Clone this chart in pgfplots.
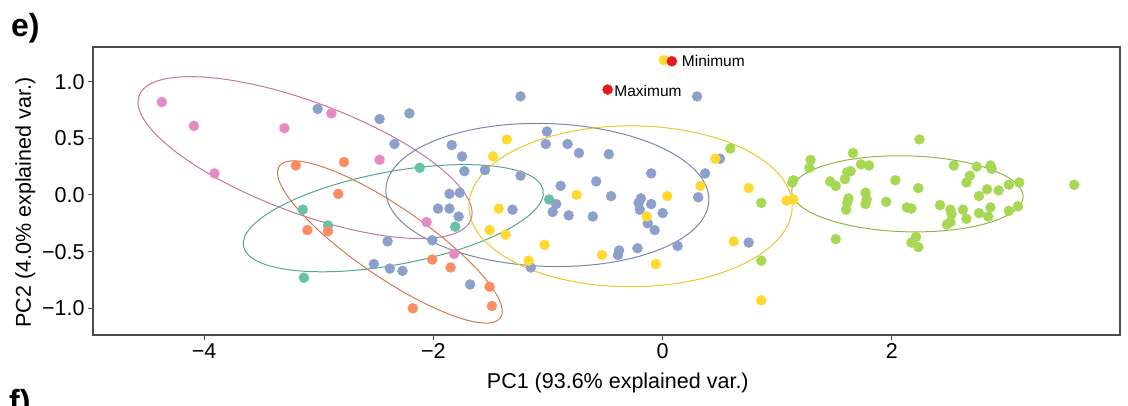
\documentclass[border=0pt]{standalone}
\usepackage{fontspec}
\setmainfont{Liberation Sans}
\usepackage{pgfplots}
\pgfplotsset{compat=1.18}
\definecolor{cteal}{HTML}{66C2A5}
\definecolor{corange}{HTML}{FC8D62}
\definecolor{cblue}{HTML}{8DA0CB}
\definecolor{cpink}{HTML}{E78AC3}
\definecolor{clime}{HTML}{A6D854}
\definecolor{cyellow}{HTML}{FFD92F}
\definecolor{cred}{HTML}{E31A1C}
\begin{document}
\begin{tikzpicture}[x=1pt,y=1pt]
\begin{axis}[
  at={(93pt,70pt)}, anchor=south west,
  scale only axis, width=1027pt, height=288pt,
  xmin=-4.97, xmax=3.99, ymin=-1.236, ymax=1.306,
  xtick={-4,-2,0,2}, xticklabels={−4,−2,0,2},
  ytick={-1,-0.5,0,0.5,1}, yticklabels={−1.0,−0.5,0.0,0.5,1.0},
  tick align=outside, major tick length=5pt,
  xtick pos=bottom, ytick pos=left,
  axis line style={line width=1.5pt, draw=black!70},
  tick style={line width=1pt, black!70},
  ticklabel style={font=\fontsize{21.5}{24}\selectfont},
  xlabel={PC1 (93.6\% explained var.)},
  ylabel={PC2 (4.0\% explained var.)},
  label style={font=\fontsize{21.5}{24}\selectfont},
  xlabel style={at={(axis description cs:0.511,-0.1667)}, anchor=center},
  ylabel style={at={(axis description cs:-0.066,0.46)}, anchor=center},
  clip=false,
]
% teal
\addplot[only marks, mark=*, mark size=5, color=cteal] coordinates {
(-2.12,0.24) (-3.14,-0.13) (-2.92,-0.27) (-3.13,-0.73) (-1.81,-0.28) (-0.99,-0.04)};
% orange
\addplot[only marks, mark=*, mark size=5, color=corange] coordinates {
(-3.20,0.26) (-2.78,0.29) (-2.83,0.01) (-3.10,-0.31) (-2.92,-0.32) (-2.01,-0.57)
(-1.85,-0.64) (-2.18,-1.00) (-1.51,-0.81) (-1.49,-0.98)};
% blue
\addplot[only marks, mark=*, mark size=5, color=cblue] coordinates {
(-3.01,0.76) (-2.47,0.67) (-2.21,0.72) (-2.34,0.45)
(-2.40,-0.41) (-2.01,-0.40) (-1.96,-0.12) (-2.52,-0.61) (-2.38,-0.65) (-2.27,-0.67)
(-1.86,0.01) (-1.77,0.02) (-1.86,-0.12) (-1.78,-0.19) (-1.68,-0.79)
(-1.31,-0.13) (-1.15,-0.64) (-0.93,-0.08) (-0.96,-0.15) (-0.82,-0.18) (-0.61,-0.19) (-0.45,-0.01)
(-0.38,-0.49) (-0.39,-0.53) (-0.22,-0.47) (-0.19,-0.03) (-0.21,-0.07) (-0.20,-0.13) (-0.10,-0.08)
(-0.13,-0.25) (-0.07,-0.31) (0.0,-0.16) (0.13,-0.45) (0.31,-0.02) (0.75,-0.42)
(-1.24,0.87) (0.30,0.87) (-1.01,0.56) (-1.84,0.44) (-1.75,0.34) (-1.02,0.45) (-0.83,0.45)
(-0.73,0.37) (-0.47,0.36) (-1.73,0.21) (-1.55,0.22) (-1.24,0.17) (-0.89,0.08) (-0.58,0.12)
(-0.10,0.19) (0.37,0.19) (0.50,0.32)};
% pink
\addplot[only marks, mark=*, mark size=5, color=cpink] coordinates {
(-4.37,0.82) (-4.09,0.61) (-3.30,0.59) (-3.91,0.19) (-2.89,0.72) (-2.47,0.31) (-2.06,-0.24) (-1.82,-0.52)};
% lime
\addplot[only marks, mark=*, mark size=5, color=clime] coordinates {
(0.59,0.41) (0.86,-0.07) (0.86,-0.58)
(2.24,0.49) (1.66,0.37) (1.29,0.31) (1.28,0.24) (1.73,0.27) (1.80,0.26) (2.54,0.26) (2.74,0.25)
(2.86,0.26) (2.87,0.23) (2.68,0.17) (2.65,0.11) (1.14,0.13) (1.13,0.11) (1.46,0.12) (1.51,0.08)
(1.64,0.21) (1.61,0.20) (1.59,0.14) (2.03,0.13) (2.23,0.06) (1.77,0.02) (2.83,0.05) (2.93,0.04)
(3.02,0.09) (3.11,0.11) (3.59,0.09) (2.76,-0.01)
(1.62,-0.03) (1.61,-0.07) (1.60,-0.13) (1.78,-0.04) (1.77,-0.08) (1.95,-0.06) (2.13,-0.11)
(2.17,-0.12) (2.42,-0.09) (2.51,-0.13) (2.52,-0.17) (2.62,-0.13) (2.65,-0.21) (2.51,-0.24)
(2.48,-0.26) (2.76,-0.16) (2.86,-0.11) (2.84,-0.19) (3.02,-0.14) (3.10,-0.10) (1.51,-0.39)
(2.21,-0.37) (2.17,-0.42) (2.23,-0.46)};
% yellow
\addplot[only marks, mark=*, mark size=5, color=cyellow] coordinates {
(-1.36,0.49) (-1.48,0.34) (-1.43,-0.12) (-1.51,-0.31) (-1.37,-0.35) (-1.17,-0.58) (-1.03,-0.44)
(-0.75,0.0) (-0.53,-0.53) (-0.14,-0.19) (0.04,-0.01) (-0.06,-0.61) (0.33,0.08) (0.46,0.32)
(0.75,0.06) (0.62,-0.41) (0.86,-0.93) (1.08,-0.05) (1.14,-0.04) (0.01,1.19)};
% extremes
\addplot[only marks, mark=*, mark size=5, color=cred] coordinates {(0.08,1.18) (-0.48,0.93)};
\node[anchor=west, inner sep=0pt, font=\fontsize{15.5}{18}\selectfont] at (axis cs:0.166,1.185) {Minimum};
\node[anchor=west, inner sep=0pt, font=\fontsize{15.5}{18}\selectfont] at (axis cs:-0.423,0.92) {Maximum};
% ellipses
\draw[cpink!85!black, line width=1pt, rotate around={-20.5:(axis cs:-3.12,0.33)}] (axis cs:-3.12,0.33) ellipse [x radius=1.545, y radius=0.49];
\draw[corange!85!black, line width=1pt, rotate around={-34.4:(axis cs:-2.38,-0.415)}] (axis cs:-2.38,-0.415) ellipse [x radius=1.17, y radius=0.31];
\draw[cteal!85!black, line width=1pt, rotate around={10.6:(axis cs:-2.35,-0.205)}] (axis cs:-2.35,-0.205) ellipse [x radius=1.33, y radius=0.41];
\draw[cblue!85!black, line width=1pt, rotate around={-2:(axis cs:-1.006,0.0)}] (axis cs:-1.006,0.0) ellipse [x radius=1.41, y radius=0.63];
\draw[cyellow!92!black, line width=1pt] (axis cs:-0.28,-0.10) ellipse [x radius=1.41, y radius=0.71];
\draw[clime!85!black, line width=1pt, rotate around={-1.5:(axis cs:2.135,0.01)}] (axis cs:2.135,0.01) ellipse [x radius=1.01, y radius=0.335];
\end{axis}
\node[anchor=base west, inner sep=0pt, font=\fontsize{32}{36}\selectfont\bfseries] at (11pt,368pt) {e)};
\node[anchor=base west, inner sep=0pt, font=\fontsize{32}{36}\selectfont\bfseries] at (9pt,-7pt) {f)};
\pgfresetboundingbox
\useasboundingbox (0,0) rectangle (1128pt,405pt);
\end{tikzpicture}
\end{document}
